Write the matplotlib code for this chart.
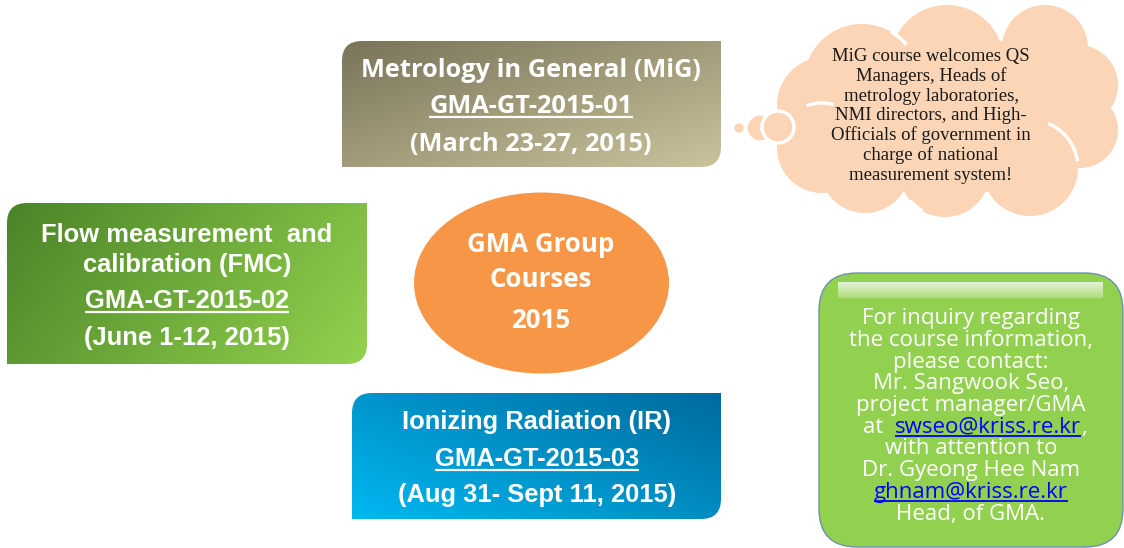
import numpy as np
import matplotlib
matplotlib.use("Agg")
import matplotlib.pyplot as plt
import matplotlib.colors as mcolors
from matplotlib.path import Path
from matplotlib.patches import PathPatch, Ellipse, Circle, FancyBboxPatch, Arc

# --- content ---
course_titles = [["Metrology in General (MiG)"],
                 ["Flow measurement  and", "calibration (FMC)"],
                 ["Ionizing Radiation (IR)"]]
course_codes = ["GMA-GT-2015-01", "GMA-GT-2015-02", "GMA-GT-2015-03"]
course_dates = ["(March 23-27, 2015)", "(June 1-12, 2015)", "(Aug 31- Sept 11, 2015)"]
center_lines = ["GMA Group", "Courses", "2015"]
cloud_lines = ["MiG course welcomes QS", "Managers, Heads of",
               "metrology laboratories,", "NMI directors, and High-",
               "Officials of government in", "charge of national",
               "measurement system!"]
contact_lines = ["For inquiry regarding", "the course information,",
                 "please contact:", "Mr. Sangwook Seo,", "project manager/GMA",
                 None, "with attention to", "Dr. Gyeong Hee Nam",
                 "ghnam@kriss.re.kr", "Head, of GMA."]
email1 = "swseo@kriss.re.kr"
email2 = "ghnam@kriss.re.kr"

# --- layout (pixel space, y down) ---
box_layout = [
    dict(x0=342, y0=41, x1=721, y1=167, c0="#79745a", c1="#cbc39c", d=(1.0, 1.0),
         cx=531, base=[77, 113, 151], font="Open Sans", size=18.3),
    dict(x0=7, y0=203, x1=367, y1=364, c0="#4b8428", c1="#93d24e", d=(1.0, 0.35),
         cx=187, base=[242, 272, 308, 345], font="Liberation Sans", size=18.4),
    dict(x0=352, y0=393, x1=721, y1=519, c0="#00b8f2", c1="#006a9c", d=(1.0, -0.8),
         cx=537, base=[429, 466, 502], font="Liberation Sans", size=18.4),
]

fig = plt.figure(figsize=(11.24, 5.48), dpi=100)
ax = fig.add_axes([0, 0, 1, 1])
ax.set_xlim(0, 1124)
ax.set_ylim(548, 0)
ax.axis("off")
rend = fig.canvas.get_renderer()


def diag_round(x0, y0, x1, y1, r):
    verts = [(x0 + r, y0), (x1, y0), (x1, y1 - r), (x1, y1), (x1 - r, y1),
             (x0, y1), (x0, y0 + r), (x0, y0), (x0 + r, y0), (x0 + r, y0)]
    codes = [Path.MOVETO, Path.LINETO, Path.LINETO, Path.CURVE3, Path.CURVE3,
             Path.LINETO, Path.LINETO, Path.CURVE3, Path.CURVE3, Path.CLOSEPOLY]
    return Path(verts, codes)


def gradient(c0, c1, w, h, d):
    u = np.linspace(0, 1, w)[None, :]
    v = np.linspace(0, 1, h)[:, None]
    t = u * d[0] + v * d[1]
    t = (t - t.min()) / (t.max() - t.min())
    a = np.array(mcolors.to_rgb(c0))
    b = np.array(mcolors.to_rgb(c1))
    return a[None, None, :] * (1 - t[..., None]) + b[None, None, :] * t[..., None]


def width_of(t):
    return t.get_window_extent(renderer=rend).width


def underline(t, x, y, color, lw=1.5, ha="center"):
    w = width_of(t)
    left = x - w / 2 if ha == "center" else x
    ax.plot([left, left + w], [y, y], color=color, lw=lw, solid_capstyle="butt")


# course boxes
for i, L in enumerate(box_layout):
    p = PathPatch(diag_round(L["x0"], L["y0"], L["x1"], L["y1"], 20),
                  facecolor="none", edgecolor="none")
    ax.add_patch(p)
    img = gradient(L["c0"], L["c1"], 200, 80, L["d"])
    im = ax.imshow(img, extent=(L["x0"], L["x1"], L["y1"], L["y0"]),
                   aspect="auto", interpolation="bilinear", zorder=1)
    im.set_clip_path(p)
    lines = course_titles[i] + [course_codes[i], course_dates[i]]
    for j, s in enumerate(lines):
        t = ax.text(L["cx"], L["base"][j], s, ha="center", va="baseline",
                    color="white", fontsize=L["size"], fontweight="bold",
                    family=L["font"], zorder=3)
        if s == course_codes[i]:
            underline(t, L["cx"], L["base"][j] + 4, "white", lw=1.6)

# centre ellipse
ax.add_patch(Ellipse((541.5, 283), 255, 181, facecolor="#f79646",
                     edgecolor="none", zorder=2))
for s, y in zip(center_lines, [252, 287, 328]):
    ax.text(541, y, s, ha="center", va="baseline", color="white",
            fontsize=18.6, fontweight="bold", family="Open Sans", zorder=3)

# cloud callout
peach = "#fbd5b5"
lobes = [(862, 82, 58), (947, 62, 57), (1045, 48, 43), (1078, 85, 40),
         (1080, 130, 38), (1030, 168, 48), (945, 172, 45), (865, 168, 45),
         (822, 148, 45), (825, 105, 48)]
for cx, cy, r in lobes:
    ax.add_patch(Circle((cx, cy), r, facecolor=peach, edgecolor="none", zorder=2))
ax.add_patch(Ellipse((950, 115), 270, 160, facecolor=peach, edgecolor="none", zorder=2))
ax.add_patch(Arc((1030, 168), 96, 96, theta1=-68, theta2=-8, color="white",
                 lw=2.5, zorder=2.5))
ax.add_patch(Arc((862, 82), 116, 116, theta1=-60, theta2=-40, color="white",
                 lw=2.5, zorder=2.5))
ax.add_patch(Arc((945, 172), 90, 90, theta1=120, theta2=140, color="white",
                 lw=2.5, zorder=2.5))
ax.add_patch(Arc((822, 148), 90, 90, theta1=-110, theta2=-75, color="white",
                 lw=2.5, zorder=2.5))
for cx, cy, r in [(739, 128, 6.5), (760, 128, 14), (778, 127, 16)]:
    ax.add_patch(Circle((cx, cy), r, facecolor=peach, edgecolor="white",
                        lw=2.5, zorder=2.6))
for k, s in enumerate(cloud_lines):
    ax.text(931, 61 + 19.8 * k, s, ha="center", va="baseline", color="#1a1a1a",
            fontsize=13.5, family="Liberation Serif", zorder=3)

# contact box
ax.add_patch(FancyBboxPatch((819 + 38, 273 + 38), 304 - 76, 274 - 76,
                            boxstyle="round,pad=38", facecolor="#92d050",
                            edgecolor="#6f8fb5", lw=1.0, zorder=2))
hl = np.ones((30, 2, 4))
hl[..., 3] = np.linspace(0.75, 0.25, 30)[:, None]
ax.imshow(hl, extent=(838, 1103, 298, 282), aspect="auto",
          interpolation="bilinear", zorder=2.5)

cx = 971
fs = 16
blue = "#0000ff"
for k, s in enumerate(contact_lines):
    y = 324.3 + 21.7 * k
    if s is None:
        full = "at  " + email1 + ","
        probe = ax.text(0, -100, full, fontsize=fs, family="Open Sans")
        wf = width_of(probe)
        probe.set_text(email1 + ",")
        wt = width_of(probe)
        probe.remove()
        left = cx + 4 - wf / 2
        ax.text(left, y, "at", ha="left", va="baseline", color="white",
                fontsize=fs, family="Open Sans", zorder=3)
        te = ax.text(left + wf - wt, y, email1, ha="left", va="baseline",
                     color=blue, fontsize=fs, family="Open Sans", zorder=3)
        we = width_of(te)
        underline(te, left + wf - wt, y + 3, blue, lw=1.3, ha="left")
        ax.text(left + wf - wt + we, y, ",", ha="left", va="baseline",
                color="white", fontsize=fs, family="Open Sans", zorder=3)
        continue
    col = blue if s == email2 else "white"
    t = ax.text(cx, y, s, ha="center", va="baseline", color=col, fontsize=fs,
                family="Open Sans", zorder=3)
    if s == email2:
        underline(t, cx, y + 3, blue, lw=1.3)

ax.set_xlim(0, 1124)
ax.set_ylim(548, 0)
fig.savefig("out.png", dpi=100, facecolor="white")
